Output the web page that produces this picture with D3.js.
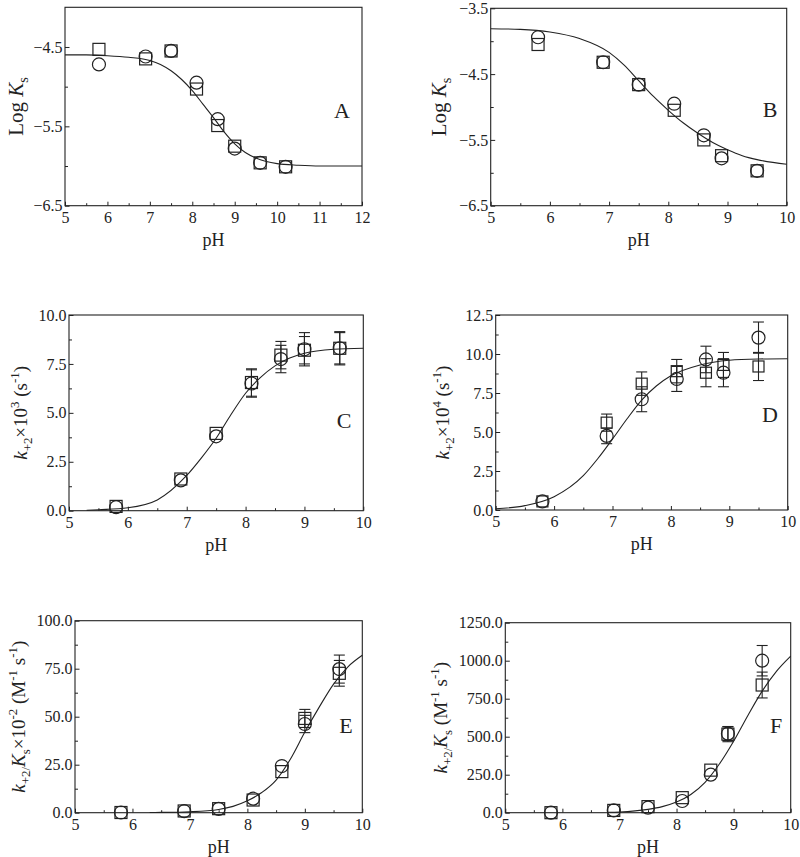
<!DOCTYPE html>
<html>
<head>
<meta charset="utf-8">
<script src="https://cdn.jsdelivr.net/npm/d3@7"></script>
<style>
  html, body { margin: 0; padding: 0; background: #fff; }
  svg { display: block; }
  text { font-family: "Liberation Serif", "Times New Roman", serif; fill: #222; }
</style>
</head>
<body>
<svg id="chart" width="800" height="857"></svg>
<script>
// ---------------- DATA ----------------
// Panel A: Log Ks vs pH
const phA = [5.8, 6.9, 7.5, 8.1, 8.6, 9.0, 9.6, 10.2];
const circA = [-4.72, -4.62, -4.55, -4.95, -5.41, -5.78, -5.96, -6.01];
const sqA = [-4.53, -4.65, -4.55, -5.03, -5.49, -5.75, -5.96, -6.01];
const fitPhA = [5, 5.5, 6, 6.5, 7, 7.25, 7.5, 7.75, 8, 8.25, 8.5, 8.75, 9, 9.25, 9.5, 10, 10.5, 11, 12];
const fitA = [-4.60, -4.60, -4.61, -4.63, -4.67, -4.72, -4.80, -4.91, -5.05, -5.22, -5.39, -5.57, -5.72, -5.83, -5.90, -5.97, -5.99, -6.00, -6.00];

// Panel B: Log Ks vs pH
const phB = [5.8, 6.9, 7.5, 8.1, 8.6, 8.9, 9.5];
const circB = [-3.94, -4.32, -4.66, -4.95, -5.43, -5.78, -5.97];
const sqB = [-4.05, -4.32, -4.66, -5.05, -5.50, -5.74, -5.97];
const fitPhB = [5, 5.5, 6, 6.5, 7, 7.25, 7.5, 7.75, 8, 8.25, 8.5, 8.75, 9, 9.25, 9.5, 10];
const fitB = [-3.81, -3.82, -3.86, -3.96, -4.17, -4.36, -4.60, -4.84, -5.05, -5.24, -5.40, -5.54, -5.65, -5.74, -5.80, -5.87];

// Panel C: k+2 x 10^3 (s^-1)
const phC = [5.8, 6.9, 7.5, 8.1, 8.6, 9.0, 9.6];
const circC = [0.18, 1.55, 3.8, 6.5, 7.75, 8.25, 8.3];
const circErrC = [0.05, 0.1, 0.3, 0.7, 0.7, 0.85, 0.85];
const sqC = [0.22, 1.62, 3.95, 6.55, 7.95, 8.2, 8.3];
const sqErrC = [0.05, 0.1, 0.3, 0.7, 0.7, 0.7, 0.8];
const fitPhC = [5.3, 5.5, 6, 6.5, 7, 7.25, 7.5, 7.75, 8, 8.25, 8.5, 8.75, 9, 9.5, 10];
const fitC = [0.02, 0.05, 0.15, 0.55, 1.8, 2.7, 3.7, 4.9, 6.0, 6.8, 7.4, 7.8, 8.05, 8.25, 8.3];

// Panel D: k+2 x 10^4 (s^-1)
const phD = [5.8, 6.9, 7.5, 8.1, 8.6, 8.9, 9.5];
const circD = [0.55, 4.75, 7.1, 8.4, 9.65, 8.8, 11.05];
const circErrD = [0.1, 0.5, 0.8, 0.8, 0.85, 0.9, 1.0];
const sqD = [0.55, 5.6, 8.1, 8.9, 8.8, 9.3, 9.2];
const sqErrD = [0.1, 0.55, 0.75, 0.75, 0.9, 0.8, 0.9];
const fitPhD = [5, 5.5, 6, 6.5, 6.75, 7, 7.25, 7.5, 7.75, 8, 8.5, 9, 9.5, 10];
const fitD = [0.08, 0.28, 0.85, 2.2, 3.3, 4.55, 5.85, 7.05, 7.95, 8.6, 9.3, 9.6, 9.68, 9.7];

// Panel E: k+2/Ks x 10^-2 (M^-1 s^-1)
const phE = [5.8, 6.9, 7.5, 8.1, 8.6, 9.0, 9.6];
const circE = [0.1, 0.8, 2.0, 7.3, 24.3, 46.2, 74.8];
const circErrE = [0, 0, 0, 0.5, 1, 4.5, 7.3];
const sqE = [0.1, 0.9, 2.1, 6.6, 21.4, 49.1, 72.6];
const sqErrE = [0, 0, 0, 0.5, 1, 4.7, 6.7];
const fitPhE = [6.3, 6.5, 7, 7.5, 7.75, 8, 8.25, 8.5, 8.75, 9, 9.25, 9.5, 9.75, 10];
const fitE = [0.1, 0.15, 0.5, 1.7, 3.3, 6.2, 10.5, 17, 28, 42, 55, 67, 76, 82];

// Panel F: k+2/Ks (M^-1 s^-1)
const phF = [5.8, 6.9, 7.5, 8.1, 8.6, 8.9, 9.5];
const circF = [0, 15, 33, 77, 250, 520, 1000];
const circErrF = [0, 0, 0, 0, 10, 45, 100];
const sqF = [0, 15, 40, 99, 280, 517, 840];
const sqErrF = [0, 0, 0, 0, 10, 50, 85];
const fitPhF = [6.8, 7, 7.5, 7.75, 8, 8.25, 8.5, 8.75, 9, 9.25, 9.5, 9.75, 10];
const fitF = [3, 5, 22, 40, 70, 120, 200, 320, 470, 640, 800, 930, 1030];

// tick values
const yTicksA = [-6.5, -5.5, -4.5];
const yTicksB = [-6.5, -5.5, -4.5, -3.5];
const yTicksC = [0, 2.5, 5, 7.5, 10];
const yTicksD = [0, 2.5, 5, 7.5, 10, 12.5];
const yTicksE = [0, 25, 50, 75, 100];
const yTicksF = [0, 250, 500, 750, 1000, 1250];
const xTicks12 = [5, 6, 7, 8, 9, 10, 11, 12];
const xTicks10 = [5, 6, 7, 8, 9, 10];
const panelLetters = ["A", "B", "C", "D", "E", "F"];

// ---------------- LAYOUT ----------------
const svg = d3.select("#chart");
const INK = "#222";

const panels = [
  { letter: panelLetters[0], box: [65, 362, 7.3, 205.7], xd: [5, 12], yd: [-6.5, -4.0], xt: xTicks12, yt: yTicksA, ystep: 1,
    ph: phA, circ: circA, sq: sqA, fx: fitPhA, fy: fitA, labX: 23, labFs: 21, letterPos: [342, 118],
    label: [["Log ", ""], ["K", "i"], ["s", "sub"]] },
  { letter: panelLetters[1], box: [490.7, 786.7, 8.3, 205.7], xd: [5, 10], yd: [-6.5, -3.5], xt: xTicks10, yt: yTicksB, ystep: 1,
    ph: phB, circ: circB, sq: sqB, fx: fitPhB, fy: fitB, labX: 446, labFs: 21, letterPos: [770, 117],
    label: [["Log ", ""], ["K", "i"], ["s", "sub"]] },
  { letter: panelLetters[2], box: [69, 363.3, 315, 510.7], xd: [5, 10], yd: [0, 10], xt: xTicks10, yt: yTicksC, ystep: 2.5,
    ph: phC, circ: circC, sq: sqC, ce: circErrC, se: sqErrC, fx: fitPhC, fy: fitC, labX: 27, labFs: 19, letterPos: [344, 428],
    label: [["k", "i"], ["+2", "sub"], ["×10", ""], ["3", "sup"], [" (s", ""], ["-1", "sup"], [")", ""]] },
  { letter: panelLetters[3], box: [495.7, 787.7, 315, 510], xd: [5, 10], yd: [0, 12.5], xt: xTicks10, yt: yTicksD, ystep: 2.5,
    ph: phD, circ: circD, sq: sqD, ce: circErrD, se: sqErrD, fx: fitPhD, fy: fitD, labX: 449, labFs: 19, letterPos: [770, 422],
    label: [["k", "i"], ["+2", "sub"], ["×10", ""], ["4", "sup"], [" (s", ""], ["-1", "sup"], [")", ""]] },
  { letter: panelLetters[4], box: [75, 362.3, 620.7, 812.7], xd: [5, 10], yd: [0, 100], xt: xTicks10, yt: yTicksE, ystep: 25,
    ph: phE, circ: circE, sq: sqE, ce: circErrE, se: sqErrE, fx: fitPhE, fy: fitE, labX: 25, labFs: 19, letterPos: [346, 733],
    label: [["k", "i"], ["+2/", "sub"], ["K", "i"], ["s", "sub"], ["×10", ""], ["-2", "sup"], [" (M", ""], ["-1", "sup"], [" s", ""], ["-1", "sup"], [")", ""]] },
  { letter: panelLetters[5], box: [505.3, 790.7, 622.7, 812.7], xd: [5, 10], yd: [0, 1250], xt: xTicks10, yt: yTicksF, ystep: 250,
    ph: phF, circ: circF, sq: sqF, ce: circErrF, se: sqErrF, fx: fitPhF, fy: fitF, labX: 447, labFs: 19, letterPos: [776, 733],
    label: [["k", "i"], ["+2/", "sub"], ["K", "i"], ["s", "sub"], [" (M", ""], ["-1", "sup"], [" s", ""], ["-1", "sup"], [")", ""]] }
];

const TICK_FS = 16, PH_FS = 18, LETTER_FS = 22;

panels.forEach((p, idx) => {
  const [x0, x1, y0, y1] = p.box;
  const x = d3.scaleLinear().domain(p.xd).range([x0, x1]);
  const y = d3.scaleLinear().domain(p.yd).range([y1, y0]);
  const g = svg.append("g");

  // minor ticks
  const xMinor = d3.range(p.xd[0] + 0.5, p.xd[1], 1);
  const yMinor = [];
  for (let i = 0; i < p.yt.length - 1; i++) yMinor.push((p.yt[i] + p.yt[i + 1]) / 2);

  const fmt = d3.format(".1f");

  g.append("g").attr("transform", `translate(0,${y1})`)
    .call(d3.axisBottom(x).tickValues(p.xt).tickSize(-4).tickPadding(5.5).tickFormat(d3.format("d")));
  g.append("g").attr("transform", `translate(0,${y1})`)
    .call(d3.axisBottom(x).tickValues(xMinor).tickSize(-2.5).tickFormat(""));
  g.append("g").attr("transform", `translate(${x0},0)`)
    .call(d3.axisLeft(y).tickValues(p.yt).tickSize(-4.5).tickPadding(2.5).tickFormat(fmt));
  g.append("g").attr("transform", `translate(${x0},0)`)
    .call(d3.axisLeft(y).tickValues(yMinor).tickSize(-3).tickFormat(""));

  g.selectAll(".domain").remove();
  g.selectAll(".tick line").attr("stroke", INK).attr("stroke-width", 1);
  g.selectAll(".tick text").attr("font-family", "Liberation Serif, serif").attr("font-size", TICK_FS).attr("fill", INK);

  // frame
  g.append("rect").attr("x", x0).attr("y", y0).attr("width", x1 - x0).attr("height", y1 - y0)
    .attr("fill", "none").attr("stroke", INK).attr("stroke-width", 1.1);

  // x label
  g.append("text").attr("x", (x0 + x1) / 2).attr("y", y1 + 40).attr("text-anchor", "middle")
    .attr("font-size", PH_FS).text("pH");

  // y label
  const fs = p.labFs;
  const yl = g.append("text")
    .attr("transform", `translate(${p.labX},${(y0 + y1) / 2}) rotate(-90)`)
    .attr("text-anchor", "middle").attr("font-size", fs);
  let shift = 0;
  p.label.forEach(([t, kind]) => {
    const ts = yl.append("tspan").text(t);
    let target = 0;
    if (kind === "sub") { ts.attr("font-size", fs * 0.68); target = fs * 0.26; }
    else if (kind === "sup") { ts.attr("font-size", fs * 0.68); target = -fs * 0.42; }
    else if (kind === "i") { ts.attr("font-style", "italic"); }
    ts.attr("dy", target - shift);
    shift = target;
  });

  // panel letter
  g.append("text").attr("x", p.letterPos[0]).attr("y", p.letterPos[1]).attr("text-anchor", "middle")
    .attr("font-size", LETTER_FS).text(p.letter);

  // fit curve
  const line = d3.line().x(d => x(d[0])).y(d => y(d[1])).curve(d3.curveMonotoneX);
  g.append("path").datum(d3.zip(p.fx, p.fy)).attr("d", line)
    .attr("fill", "none").attr("stroke", INK).attr("stroke-width", 1.1);

  // error bars
  const cap = 5.5;
  const drawErr = (vals, errs) => {
    if (!errs) return;
    vals.forEach((v, i) => {
      const e = errs[i];
      if (!e) return;
      const cx = x(p.ph[i]);
      const yt = y(v + e), yb = y(v - e);
      if (Math.abs(yb - yt) < 12) return;
      g.append("line").attr("x1", cx).attr("x2", cx).attr("y1", yt).attr("y2", yb).attr("stroke", INK).attr("stroke-width", 1.1);
      g.append("line").attr("x1", cx - cap).attr("x2", cx + cap).attr("y1", yt).attr("y2", yt).attr("stroke", INK).attr("stroke-width", 1.1);
      g.append("line").attr("x1", cx - cap).attr("x2", cx + cap).attr("y1", yb).attr("y2", yb).attr("stroke", INK).attr("stroke-width", 1.1);
    });
  };
  drawErr(p.sq, p.se);
  drawErr(p.circ, p.ce);

  // squares
  const s = idx === 3 ? 11 : 12;
  g.selectAll(null).data(d3.zip(p.ph, p.sq)).enter().append("rect")
    .attr("x", d => x(d[0]) - s / 2).attr("y", d => y(d[1]) - s / 2)
    .attr("width", s).attr("height", s)
    .attr("fill", "none").attr("stroke", INK).attr("stroke-width", 1.2);

  // circles
  g.selectAll(null).data(d3.zip(p.ph, p.circ)).enter().append("circle")
    .attr("cx", d => x(d[0])).attr("cy", d => y(d[1])).attr("r", 6.5)
    .attr("fill", "none").attr("stroke", INK).attr("stroke-width", 1.2);
});
</script>
</body>
</html>
